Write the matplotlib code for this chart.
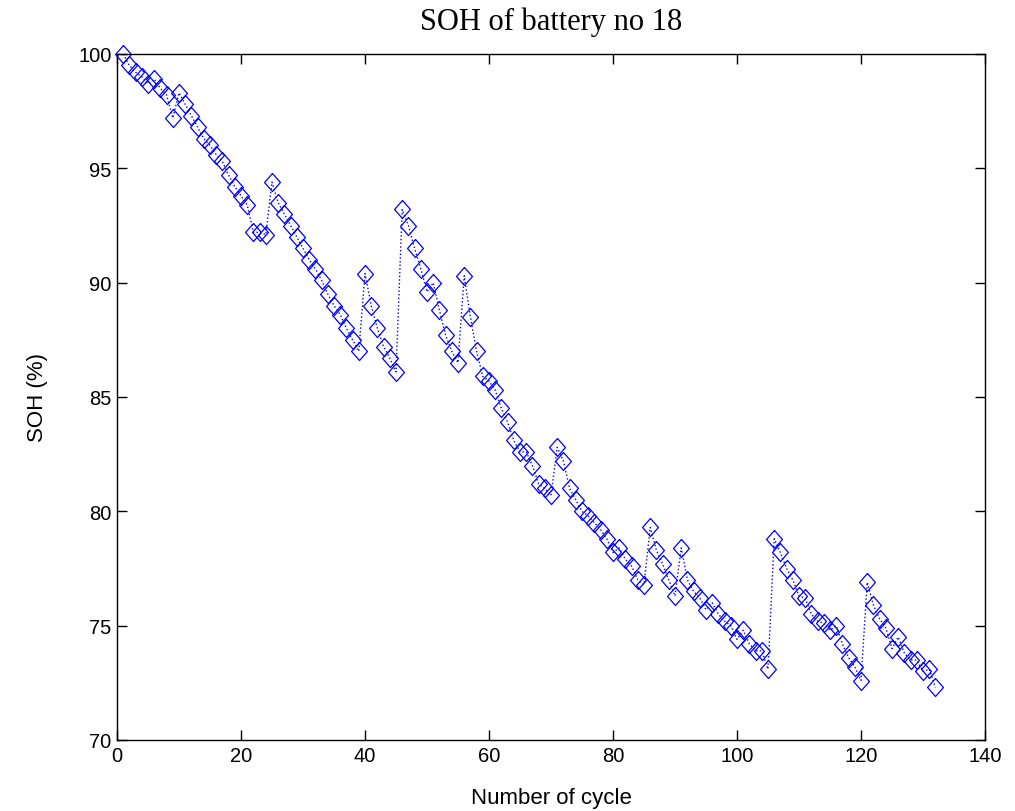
import matplotlib
matplotlib.use("Agg")
import matplotlib.pyplot as plt
from matplotlib.ticker import MultipleLocator

cycles = list(range(1, 133))
soh = [
    100.0, 99.5, 99.2, 99.0, 98.7, 98.9, 98.5, 98.2, 97.2, 98.3,
    97.8, 97.3, 96.8, 96.3, 96.0, 95.6, 95.3, 94.7, 94.2, 93.8,
    93.4, 92.2, 92.2, 92.1, 94.4, 93.5, 93.0, 92.5, 92.0, 91.5,
    91.0, 90.6, 90.1, 89.5, 89.0, 88.6, 88.0, 87.5, 87.0, 90.4,
    89.0, 88.0, 87.2, 86.7, 86.1, 93.2, 92.5, 91.5, 90.6, 89.6,
    90.0, 88.8, 87.7, 87.0, 86.5, 90.3, 88.5, 87.0, 85.9, 85.7,
    85.3, 84.5, 83.9, 83.1, 82.6, 82.6, 82.0, 81.2, 81.0, 80.7,
    82.8, 82.2, 81.0, 80.5, 80.0, 79.8, 79.5, 79.2, 78.8, 78.2,
    78.4, 77.9, 77.6, 77.0, 76.8, 79.3, 78.3, 77.7, 77.0, 76.3,
    78.4, 77.0, 76.5, 76.2, 75.7, 76.0, 75.5, 75.2, 75.0, 74.4,
    74.8, 74.2, 73.9, 73.9, 73.1, 78.8, 78.2, 77.5, 77.0, 76.3,
    76.2, 75.5, 75.2, 75.1, 74.8, 75.0, 74.2, 73.6, 73.2, 72.6,
    76.9, 75.9, 75.3, 74.9, 74.0, 74.5, 73.8, 73.5, 73.5, 73.0,
    73.1, 72.3,
]

title = "SOH of battery no 18"
xlabel = "Number of cycle"
ylabel = "SOH (%)"

sans = ["Liberation Sans Narrow", "Liberation Sans", "DejaVu Sans"]
serif = ["Liberation Serif", "DejaVu Serif"]

fig = plt.figure(figsize=(10.15, 8.12), dpi=100)
ax = fig.add_axes([117 / 1015, 1 - 741 / 812, (985 - 117) / 1015, (741 - 55) / 812])

diamond = [(0, 1), (0.88, 0), (0, -1), (-0.88, 0), (0, 1)]
ax.plot(cycles, soh, linestyle=":", color="#0000ff", linewidth=1.0,
        marker=diamond, markersize=13, markerfacecolor="none",
        markeredgecolor="#0000ff", markeredgewidth=0.9, clip_on=False)

ax.set_xlim(0, 140)
ax.set_ylim(70, 100)
ax.xaxis.set_major_locator(MultipleLocator(20))
ax.yaxis.set_major_locator(MultipleLocator(5))
ax.tick_params(direction="in", length=7, width=1, top=True, right=True,
               labelsize=14.5, pad=4)
for lab in ax.get_xticklabels() + ax.get_yticklabels():
    lab.set_family(sans)
for sp in ax.spines.values():
    sp.set_linewidth(1)

ax.set_title(title, fontfamily=serif, fontsize=22, pad=18)
ax.set_xlabel(xlabel, fontfamily=sans, fontsize=16, labelpad=16)
ax.set_ylabel(ylabel, fontfamily=sans, fontsize=16, labelpad=22)

fig.savefig("out.png", dpi=100)
